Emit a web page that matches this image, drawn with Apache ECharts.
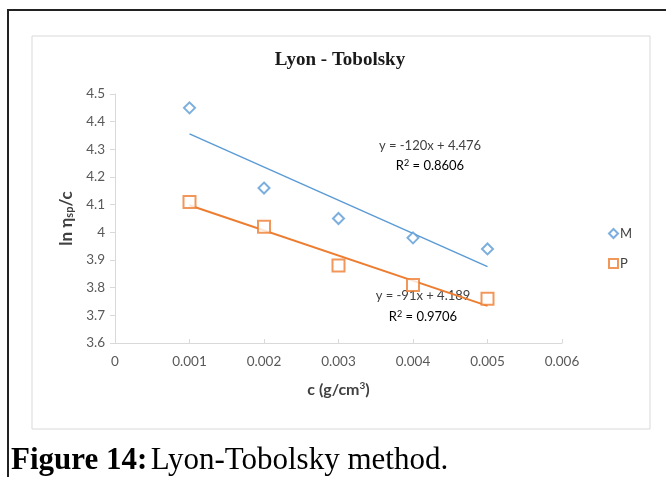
<!DOCTYPE html>
<html>
<head>
<meta charset="utf-8">
<script src="https://cdn.jsdelivr.net/npm/echarts@6/dist/echarts.min.js"></script>
<style>
  html, body { margin: 0; padding: 0; background: #fff; }
  #main { width: 666px; height: 477px; }
</style>
</head>
<body>
<div id="main"></div>
<script>
// concentration c (g/cm3)
var conc = [0.001, 0.002, 0.003, 0.004, 0.005];
// ln(eta_sp)/c
var valM = [4.45, 4.16, 4.05, 3.98, 3.94];
var valP = [4.11, 4.02, 3.88, 3.81, 3.76];

// linear trendline end points
var trendX = [0.001, 0.005];
var trendM = [4.356, 3.876];
var trendP = [4.098, 3.734];

var eqM = ['y = -120x + 4.476', '{t|R}{sup|2}{t| = 0.8606}'];
var eqP = ['y = -91x + 4.189', '{t|R}{sup|2}{t| = 0.9706}'];

var blue = '#5B9BD5';
var orange = '#ED7D31';
var sans = 'Lato, "Open Sans", sans-serif';
var serif = '"Liberation Serif", serif';

function pairs(xs, ys) {
    var out = [];
    for (var i = 0; i < xs.length; i++) out.push([xs[i], ys[i]]);
    return out;
}

var mychart = echarts.init(document.getElementById('main'));

var eqRich = {
    t: { fontSize: 13, fontFamily: sans, color: '#404040' },
    sup: { fontSize: 9, fontFamily: sans, color: '#404040', verticalAlign: 'top', padding: [0, 0, 6, 0] }
};

option = {
    backgroundColor: '#fff',
    animation: false,
    legend: {
        data: ['M', 'P'],
        orient: 'vertical',
        left: 603,
        top: 222,
        itemGap: 17,
        itemWidth: 9,
        itemHeight: 9,
        textStyle: { fontFamily: sans, fontSize: 13, color: '#404040', padding: [0, 0, 0, -3] }
    },
    grid: {
        left: 115,
        right: 104,
        top: 94,
        bottom: 134
    },
    xAxis: {
        type: 'value',
        min: 0,
        max: 0.006,
        interval: 0.001,
        name: '{b|c (g/cm}{s|3}{b|)}',
        nameLocation: 'middle',
        nameGap: 38,
        nameTextStyle: {
            rich: {
                b: { fontFamily: sans, fontWeight: 'bold', fontSize: 16, color: '#404040' },
                s: { fontFamily: sans, fontWeight: 'bold', fontSize: 10, color: '#404040', verticalAlign: 'top', padding: [0, 0, 8, 0] }
            }
        },
        axisLine: { lineStyle: { color: '#d9d9d9' } },
        axisTick: { show: true, length: 4, inside: true, lineStyle: { color: '#d9d9d9' } },
        axisLabel: { fontFamily: sans, fontSize: 13.5, color: '#595959', margin: 12 },
        splitLine: { show: false }
    },
    yAxis: {
        type: 'value',
        min: 3.6,
        max: 4.5,
        interval: 0.1,
        name: '{b|ln η}{s|sp}{b|/c}',
        nameLocation: 'middle',
        nameGap: 39,
        nameTextStyle: {
            rich: {
                b: { fontFamily: sans, fontWeight: 'bold', fontSize: 17, color: '#404040' },
                s: { fontFamily: sans, fontWeight: 'bold', fontSize: 11, color: '#404040', verticalAlign: 'bottom', padding: [7, 0, 0, 0] }
            }
        },
        axisLine: { show: true, lineStyle: { color: '#d9d9d9' } },
        axisTick: { show: true, length: 5, lineStyle: { color: '#d9d9d9' } },
        axisLabel: { fontFamily: sans, fontSize: 13.5, color: '#595959', margin: 10 },
        splitLine: { show: false }
    },
    series: [
        {
            name: 'M',
            type: 'scatter',
            symbol: 'diamond',
            symbolSize: 11,
            data: pairs(conc, valM),
            itemStyle: { color: '#fff', borderColor: blue, borderWidth: 2 },
            z: 3
        },
        {
            name: 'P',
            type: 'scatter',
            symbol: 'rect',
            symbolSize: 12,
            data: pairs(conc, valP),
            itemStyle: { color: '#fff', borderColor: orange, borderWidth: 2 },
            z: 3
        },
        {
            name: 'trendM',
            type: 'line',
            showSymbol: false,
            data: pairs(trendX, trendM),
            lineStyle: { color: blue, width: 1.5 },
            silent: true,
            z: 2
        },
        {
            name: 'trendP',
            type: 'line',
            showSymbol: false,
            data: pairs(trendX, trendP),
            lineStyle: { color: orange, width: 2 },
            silent: true,
            z: 2
        }
    ],
    graphic: [
        // outer page frame
        { type: 'polyline', shape: { points: [[8, 477], [8, 10], [666, 10]] }, style: { stroke: '#222', lineWidth: 2, fill: null } },
        // chart area border
        { type: 'rect', shape: { x: 32, y: 36, width: 618, height: 393 }, style: { stroke: '#d9d9d9', lineWidth: 1, fill: null } },
        // title
        { type: 'text', x: 340, y: 60, style: { text: 'Lyon - Tobolsky', font: 'bold 19px ' + serif, fill: '#1a1a1a', align: 'center', verticalAlign: 'middle' } },
        // trendline equations
        { type: 'text', x: 430, y: 146, style: { text: eqM[0], font: '13px ' + sans, fill: '#404040', align: 'center', verticalAlign: 'middle' } },
        { type: 'text', x: 430, y: 166, style: { text: eqM[1], rich: eqRich, align: 'center', verticalAlign: 'middle' } },
        { type: 'text', x: 423, y: 296, style: { text: eqP[0], font: '13px ' + sans, fill: '#404040', align: 'center', verticalAlign: 'middle' } },
        { type: 'text', x: 423, y: 317, style: { text: eqP[1], rich: eqRich, align: 'center', verticalAlign: 'middle' } },
        // caption
        { type: 'text', x: 11, y: 461, style: {
            text: '{b|Figure 14:} {n|Lyon-Tobolsky method.}',
            verticalAlign: 'middle',
            rich: {
                b: { fontFamily: serif, fontWeight: 'bold', fontSize: 31, color: '#111' },
                n: { fontFamily: serif, fontSize: 31, color: '#111' }
            }
        } }
    ]
};

mychart.setOption(option, true);
window.onresize = mychart.resize;
</script>
</body>
</html>
